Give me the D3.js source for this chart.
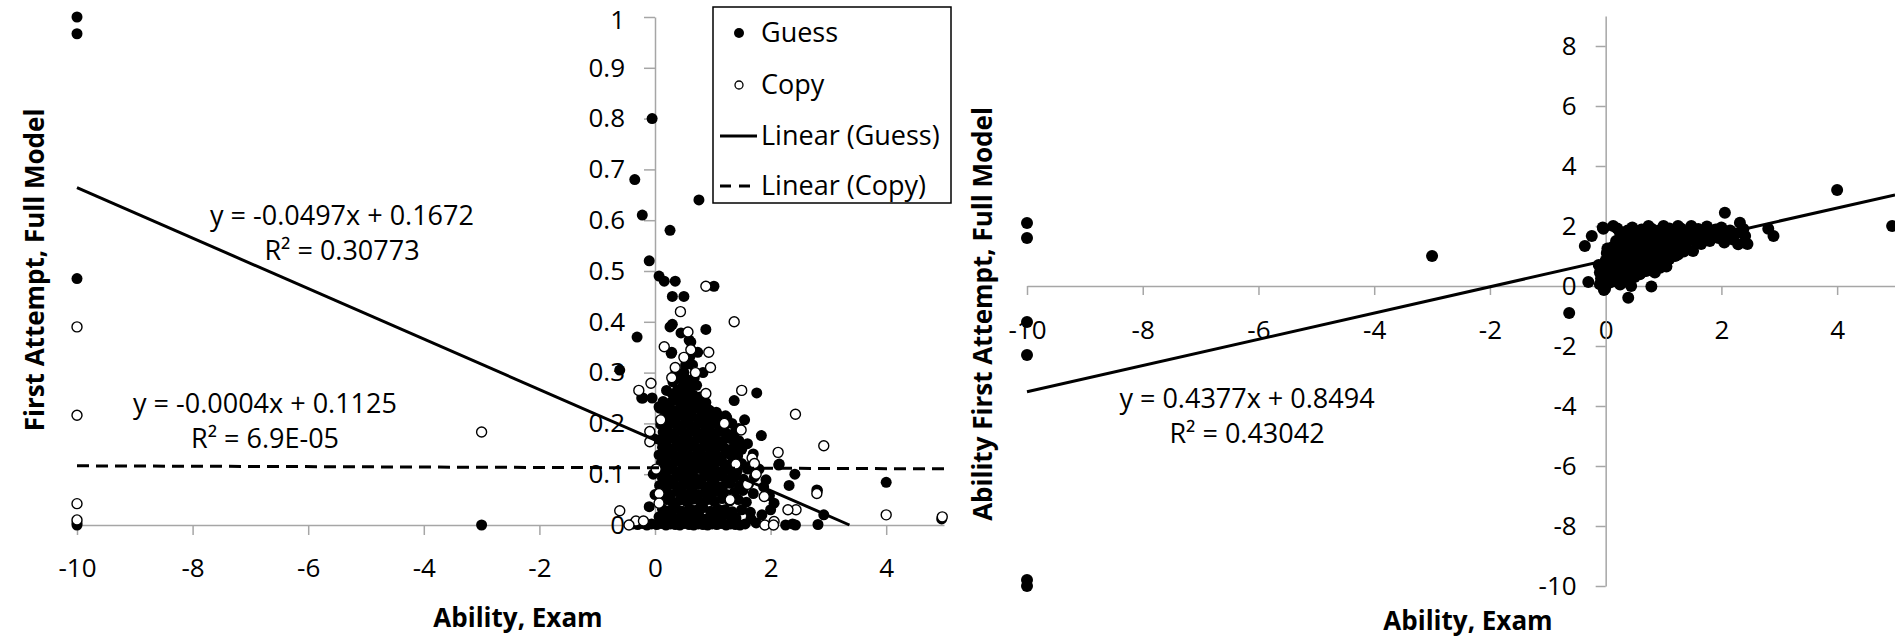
<!DOCTYPE html>
<html>
<head>
  <meta charset="utf-8">
  <script src="https://d3js.org/d3.v7.min.js"></script>
  <style>
    body { margin: 0; background: #fff; }
    text { font-family: "Open Sans", sans-serif; fill: #000; }
    .axis path, .axis line { stroke: #a6a6a6; stroke-width: 1.5; }
    .axis text { font-size: 26px; }
    .title { font-size: 26px; font-weight: bold; }
    .eq { font-size: 27px; text-anchor: middle; }
  </style>
</head>
<body>
  <script>

    // ---- data ----
    // left chart, "Guess" series (filled markers)
    var guessPoints = [
      [-10,1.0],[-10,0.967],[-10,0.485],[-10,0.0],[-10,0.004],[-3,0.0],
      [-0.05,0.80],[-0.35,0.68],[-0.22,0.61],[0.76,0.64],[0.26,0.58],[-0.10,0.52],
      [0.07,0.49],[0.16,0.48],[0.35,0.48],[0.30,0.45],[0.50,0.45],[1.02,0.47],
      [-0.31,0.37],[0.26,0.39],[0.88,0.385],[0.62,0.36],[-0.61,0.305],[0.29,0.34],
      [0.74,0.34],[0.53,0.315],[0.83,0.30],[-0.23,0.25],[-0.05,0.25],[-0.21,0.25],
      [0.08,0.23],[1.37,0.245],[1.76,0.26],[1.84,0.176],[2.15,0.12],[2.32,0.078],
      [2.42,0.10],[2.81,0.068],[2.92,0.02],[4.0,0.084],[4.96,0.012],[-0.1,0.036],
      [-0.38,0.002],[-0.3,0.001],[-0.22,0.003],[-0.14,0.0],[-0.06,0.002],[0.03,0.001],[0.11,0.003],
      [0.19,0.0],[0.27,0.002],[0.35,0.001],[0.43,0.0],[0.51,0.003],[0.59,0.001],[0.67,0.0],
      [0.75,0.002],[0.83,0.001],[0.91,0.0],[0.99,0.002],[1.07,0.001],[1.15,0.003],[1.23,0.0],
      [1.31,0.002],[1.39,0.001],[1.47,0.0],[1.56,0.002],[1.75,0.004],[2.26,0.0],[2.38,0.002],
      [2.43,0.0],[2.82,0.001],
      [0.07,0.016],[0.17,0.012],[0.29,0.018],[0.41,0.014],[0.54,0.02],[0.65,0.013],[0.77,0.017],
      [0.89,0.012],[1.01,0.019],[1.14,0.015],[1.27,0.02],[1.4,0.014],[1.66,0.012],[0.13,0.031],
      [0.24,0.028],[0.36,0.033],[0.47,0.027],[0.6,0.032],[0.71,0.029],[0.83,0.034],[0.96,0.027],
      [1.09,0.031],[1.21,0.03],[1.34,0.026],[1.5,0.03],[2.06,0.043],
      [0.09,0.047],[0.2,0.05],[0.31,0.044],[0.43,0.049],[0.55,0.046],[0.67,0.051],[0.79,0.045],
      [0.91,0.05],[1.03,0.046],[1.16,0.052],[1.29,0.047],[1.44,0.05],[1.58,0.045],[1.98,0.058],
      [0.15,0.063],[0.27,0.06],[0.39,0.066],[0.51,0.061],[0.63,0.065],[0.75,0.06],[0.87,0.064],
      [0.99,0.061],[1.12,0.066],[1.24,0.06],[1.37,0.064],[1.52,0.068],[1.7,0.062],
      [0.08,0.078],[0.19,0.075],[0.31,0.08],[0.43,0.076],[0.55,0.081],[0.67,0.077],[0.8,0.08],
      [0.92,0.075],[1.04,0.079],[1.17,0.076],[1.3,0.082],[1.46,0.077],[1.62,0.081],[2.8,0.069],
      [0.13,0.092],[0.25,0.09],[0.37,0.095],[0.49,0.091],[0.61,0.094],[0.73,0.09],[0.85,0.095],
      [0.97,0.092],[1.1,0.096],[1.23,0.09],[1.37,0.094],[1.53,0.09],[1.72,0.095],[1.92,0.089],
      [0.06,0.108],[0.18,0.106],[0.3,0.11],[0.42,0.105],[0.54,0.109],[0.66,0.106],[0.78,0.111],
      [0.9,0.107],[1.02,0.11],[1.15,0.105],[1.28,0.109],[1.42,0.106],[1.6,0.11],
      [0.11,0.123],[0.23,0.12],[0.35,0.125],[0.47,0.121],[0.59,0.124],[0.71,0.12],[0.83,0.126],
      [0.95,0.121],[1.07,0.125],[1.2,0.12],[1.34,0.124],[1.5,0.121],[1.67,0.118],[2.14,0.118],
      [0.07,0.138],[0.19,0.135],[0.31,0.14],[0.43,0.136],[0.55,0.139],[0.67,0.135],[0.79,0.14],
      [0.91,0.136],[1.03,0.139],[1.15,0.135],[1.28,0.14],[1.43,0.136],
      [0.13,0.153],[0.25,0.15],[0.37,0.155],[0.49,0.151],[0.61,0.154],[0.73,0.15],[0.85,0.155],
      [0.97,0.151],[1.09,0.154],[1.22,0.15],[1.36,0.153],[1.5,0.149],
      [0.08,0.168],[0.2,0.165],[0.32,0.17],[0.44,0.166],[0.56,0.169],[0.68,0.165],[0.8,0.17],
      [0.92,0.166],[1.04,0.169],[1.17,0.165],[1.31,0.17],[1.45,0.166],
      [0.14,0.183],[0.26,0.18],[0.38,0.185],[0.5,0.181],[0.62,0.184],[0.74,0.18],[0.86,0.185],
      [0.98,0.181],[1.1,0.184],[1.24,0.18],[1.38,0.182],
      [0.1,0.198],[0.22,0.195],[0.34,0.2],[0.46,0.196],[0.58,0.199],[0.7,0.195],[0.82,0.2],
      [0.94,0.196],[1.06,0.2],[1.2,0.196],[1.33,0.2],
      [0.16,0.213],[0.28,0.21],[0.4,0.215],[0.52,0.211],[0.64,0.214],[0.76,0.21],[0.88,0.215],
      [1.0,0.21],[1.12,0.214],[1.24,0.212],[1.55,0.207],
      [0.07,0.233],[0.2,0.228],[0.32,0.225],[0.44,0.23],[0.56,0.226],[0.68,0.229],[0.8,0.225],
      [0.94,0.226],[1.06,0.222],[0.14,0.243],[0.26,0.24],[0.38,0.245],[0.5,0.241],[0.62,0.244],
      [0.74,0.24],[0.88,0.241],[0.3,0.258],[0.42,0.255],[0.54,0.26],[0.66,0.256],[0.78,0.252],
      [0.39,0.266],[0.48,0.272],[0.6,0.27],[0.72,0.275],[0.31,0.282],[0.45,0.287],[0.57,0.285],
      [0.5,0.3],[0.65,0.315],[0.55,0.318],[0.28,0.338],[0.6,0.33],[0.59,0.364],
      [1.22,0.215],[1.06,0.2],[1.45,0.19],[1.6,0.16],[1.7,0.14],[1.8,0.11],[1.88,0.075],
      [2.0,0.03],[1.65,0.025],[1.85,0.02],[0.93,0.226],[0.2,0.265],[0.68,0.29],[0.36,0.3],
      [-0.03,0.1],[-0.02,0.17],[0.0,0.06],[0.45,0.378],[0.3,0.395]
    ];

    // left chart, "Copy" series (open markers)
    var copyPoints = [
      [-10,0.39],[-10,0.216],[-10,0.042],[-10,0.01],[-3,0.183],
      [-0.61,0.028],[-0.33,0.008],[-0.28,0.265],[-0.07,0.279],[-0.09,0.184],[-0.09,0.164],
      [0.16,0.351],[0.29,0.29],[0.44,0.42],[0.57,0.38],[0.62,0.345],[0.93,0.34],[0.96,0.31],
      [0.88,0.47],[1.37,0.40],[1.50,0.265],[2.43,0.218],[2.92,0.156],[2.13,0.143],[1.68,0.132],
      [1.72,0.121],[2.44,0.03],[2.06,0.007],[1.89,0.056],[2.8,0.062],[4.0,0.02],[4.97,0.016],
      [0.07,0.062],[0.07,0.043],[0.1,0.207],[0.88,0.259],[1.49,0.187],[0.5,0.33],[0.7,0.3],
      [0.35,0.31],[1.2,0.2],[1.4,0.12],[1.6,0.08],[1.9,0.0],[2.05,0.0],[-0.45,0.0],[-0.2,0.008],
      [2.3,0.03],[1.75,0.1],[0.02,0.11],[1.3,0.05]
    ];

    // right chart, single series (filled markers)
    var abilityPoints = [
      [-10,2.1],[-10,1.6],[-10,-1.2],[-10,-2.3],[-10,-9.8],[-10,-10],[-3,1.0],[-0.63,-0.9],
      [4,3.2],[4.95,2.0],[2.06,2.44],[0.39,-0.39],[0.79,-0.02],[0.44,0.0],[-0.01,-0.09],
      [-0.3,0.13],[-0.1,0.06],[-0.36,1.33],[-0.24,1.67],[-0.04,1.91],[0.13,2.0],[2.9,1.67],
      [2.81,1.91],[2.29,1.39],[2.41,1.67],[2.32,2.11],[2.09,1.67],[1.51,1.17],[1.2,1.0],
      [0.94,0.61],[0.59,0.39],[0.25,0.22],[-0.1,0.45],[-0.02,0.6],[-0.08,0.25],
      [0.02,0.35],[0.05,0.6],[0.0,0.85],[0.08,1.05],[0.03,1.25],[0.1,0.45],[0.06,0.75],
      [0.12,1.3],[0.02,1.1],[0.15,0.3],[0.18,0.55],[0.2,0.8],[0.16,1.05],[0.22,1.25],
      [0.18,1.5],[0.25,1.75],[0.2,1.92],[0.28,0.45],[0.3,0.7],[0.32,0.95],[0.28,1.15],
      [0.35,1.4],[0.3,1.6],[0.38,1.85],[0.4,0.35],[0.42,0.6],[0.45,0.85],[0.4,1.1],
      [0.48,1.3],[0.44,1.55],[0.5,1.75],[0.46,1.95],[0.55,0.5],[0.52,0.75],[0.58,1.0],
      [0.55,1.2],[0.6,1.45],[0.56,1.65],[0.62,1.88],[0.65,0.7],[0.68,0.95],[0.7,1.15],
      [0.66,1.35],[0.72,1.6],[0.7,1.8],[0.74,2.0],[0.78,0.85],[0.8,1.1],[0.82,1.3],
      [0.78,1.5],[0.85,1.7],[0.8,1.9],[0.9,0.8],[0.92,1.0],[0.95,1.25],[0.9,1.45],
      [0.96,1.65],[0.92,1.85],[1.0,2.0],[1.02,1.1],[1.05,1.35],[1.08,1.55],[1.03,1.75],
      [1.1,1.92],[1.15,1.25],[1.18,1.45],[1.2,1.65],[1.16,1.85],[1.25,2.0],[1.28,1.35],
      [1.3,1.55],[1.33,1.75],[1.3,1.92],[1.4,1.45],[1.42,1.65],[1.45,1.85],[1.48,2.0],
      [1.55,1.5],[1.58,1.7],[1.6,1.9],[1.68,1.6],[1.72,1.8],[1.75,1.98],[1.85,1.7],
      [1.9,1.88],[1.95,1.6],[2.0,1.95],[2.15,1.85],[2.2,1.55],[2.25,1.75],[0.35,0.15],
      [0.5,0.3],[0.62,0.45],[0.7,0.5],[0.85,0.65],[1.0,0.8],[1.1,0.9],[-0.05,1.95],
      [-0.03,-0.13],[0.12,0.15],[0.25,0.05],
      [1.35,1.15],[1.25,1.05],[1.65,1.4],[1.8,1.5],[2.05,1.45],[2.38,1.9],[2.45,1.4],
      [0.05,0.1],[0.3,0.2],[0.12,0.62],[-0.12,0.7],[0.85,0.45],[1.05,0.65]
    ];

    // linear fits [slope, intercept]
    var guessFit = [-0.0497, 0.1672];
    var copyFit = [-0.0004, 0.1125];
    var abilityFit = [0.4377, 0.8494];

    var guessEq = ["y = -0.0497x + 0.1672", "R\u00b2 = 0.30773"];
    var copyEq = ["y = -0.0004x + 0.1125", "R\u00b2 = 6.9E-05"];
    var abilityEq = ["y = 0.4377x + 0.8494", "R\u00b2 = 0.43042"];

    // tick labels
    var xTicks = [-10, -8, -6, -4, -2, 0, 2, 4];
    var leftYTicks = [0, 0.1, 0.2, 0.3, 0.4, 0.5, 0.6, 0.7, 0.8, 0.9, 1];
    var rightYTicks = [-10, -8, -6, -4, -2, 0, 2, 4, 6, 8];

    var legendLabels = ["Guess", "Copy", "Linear (Guess)", "Linear (Copy)"];

    // plain hyphen minus, like the original
    var fmt = function(d) { return String(d); };

    // ---- svg ----
    var svg = d3.select("body").append("svg")
        .attr("width", 1895)
        .attr("height", 638);

    // ---- left chart scales ----
    var xL = d3.scaleLinear().domain([-10, 5]).range([77, 944]);
    var yL = d3.scaleLinear().domain([0, 1]).range([525, 17]);

    // ---- right chart scales ----
    var xR = d3.scaleLinear().domain([-10, 5]).range([1027, 1895]);
    var yR = d3.scaleLinear().domain([-10, 9]).range([586, 16]);

    // left x axis at y = 0
    var gxL = svg.append("g")
        .attr("class", "axis")
        .attr("transform", "translate(0," + yL(0) + ")")
        .call(d3.axisBottom(xL).tickValues(xTicks).tickSize(10).tickSizeOuter(0).tickFormat(fmt));
    gxL.selectAll("text").attr("y", 43).attr("dy", "0.35em");

    // left y axis at x = 0
    var gyL = svg.append("g")
        .attr("class", "axis")
        .attr("transform", "translate(" + xL(0) + ",0)")
        .call(d3.axisLeft(yL).tickValues(leftYTicks).tickSize(11).tickSizeOuter(0).tickFormat(fmt));
    gyL.selectAll("text").attr("x", -30);
    // top label sits against the page edge; nudge it down a little
    gyL.selectAll("text").filter(function(d) { return d === 1; }).attr("dy", "0.45em");

    // right x axis
    var gxR = svg.append("g")
        .attr("class", "axis")
        .attr("transform", "translate(0," + yR(0) + ")")
        .call(d3.axisBottom(xR).tickValues(xTicks).tickSize(9).tickSizeOuter(0).tickFormat(fmt));
    gxR.selectAll("text").attr("y", 44).attr("dy", "0.35em");

    // right y axis
    var gyR = svg.append("g")
        .attr("class", "axis")
        .attr("transform", "translate(" + xR(0) + ",0)")
        .call(d3.axisLeft(yR).tickValues(rightYTicks).tickSize(10).tickSizeOuter(0).tickFormat(fmt));
    gyR.selectAll("text").attr("x", -29);

    svg.selectAll(".axis .domain").attr("stroke", "#a6a6a6");
    svg.selectAll(".axis .tick line").attr("stroke", "#a6a6a6");
    svg.selectAll(".axis text").attr("fill", "#000");

    // ---- markers ----
    svg.append("g").selectAll("circle")
        .data(guessPoints)
      .enter().append("circle")
        .attr("cx", function(d) { return xL(d[0]); })
        .attr("cy", function(d) { return yL(d[1]); })
        .attr("r", 5.5)
        .attr("fill", "#000");

    svg.append("g").selectAll("circle")
        .data(copyPoints)
      .enter().append("circle")
        .attr("cx", function(d) { return xL(d[0]); })
        .attr("cy", function(d) { return yL(d[1]); })
        .attr("r", 5)
        .attr("fill", "#fff")
        .attr("stroke", "#000")
        .attr("stroke-width", 1.4);

    svg.append("g").selectAll("circle")
        .data(abilityPoints)
      .enter().append("circle")
        .attr("cx", function(d) { return xR(d[0]); })
        .attr("cy", function(d) { return yR(d[1]); })
        .attr("r", 6)
        .attr("fill", "#000");

    // ---- trend lines ----
    var guessEnd = -guessFit[1] / guessFit[0];   // where it meets y = 0
    svg.append("line")
        .attr("x1", xL(-10)).attr("y1", yL(guessFit[0] * -10 + guessFit[1]))
        .attr("x2", xL(guessEnd)).attr("y2", yL(0))
        .attr("stroke", "#000").attr("stroke-width", 3);

    svg.append("line")
        .attr("x1", xL(-10)).attr("y1", yL(copyFit[0] * -10 + copyFit[1]))
        .attr("x2", xL(5)).attr("y2", yL(copyFit[0] * 5 + copyFit[1]))
        .attr("stroke", "#000").attr("stroke-width", 3)
        .attr("stroke-dasharray", "12,7");

    svg.append("line")
        .attr("x1", xR(-10)).attr("y1", yR(abilityFit[0] * -10 + abilityFit[1]))
        .attr("x2", xR(5)).attr("y2", yR(abilityFit[0] * 5 + abilityFit[1]))
        .attr("stroke", "#000").attr("stroke-width", 3);

    // ---- equation labels ----
    function eqLabel(lines, cx, cy) {
      svg.append("text").attr("class", "eq")
          .attr("x", cx).attr("y", cy).attr("dy", "0.35em").text(lines[0]);
      svg.append("text").attr("class", "eq")
          .attr("x", cx).attr("y", cy + 35).attr("dy", "0.35em").text(lines[1]);
    }
    eqLabel(guessEq, 342, 216);
    eqLabel(copyEq, 265, 404);
    eqLabel(abilityEq, 1247, 399);

    // ---- axis titles ----
    svg.append("text").attr("class", "title")
        .attr("text-anchor", "middle")
        .attr("x", 518).attr("y", 618).attr("dy", "0.35em")
        .text("Ability, Exam");

    svg.append("text").attr("class", "title")
        .attr("text-anchor", "middle")
        .attr("transform", "translate(35,270) rotate(-90)")
        .attr("dy", "0.35em")
        .text("First Attempt, Full Model");

    svg.append("text").attr("class", "title")
        .attr("text-anchor", "middle")
        .attr("x", 1468).attr("y", 621).attr("dy", "0.35em")
        .text("Ability, Exam");

    svg.append("text").attr("class", "title")
        .attr("text-anchor", "middle")
        .attr("transform", "translate(983,314) rotate(-90)")
        .attr("dy", "0.35em")
        .text("Ability First Attempt, Full Model");

    // ---- legend ----
    var legend = svg.append("g");
    legend.append("rect")
        .attr("x", 713).attr("y", 7)
        .attr("width", 238).attr("height", 196)
        .attr("fill", "#fff").attr("stroke", "#000").attr("stroke-width", 1.5);

    var rowY = [33, 85, 136, 186];
    legend.append("circle").attr("cx", 739).attr("cy", rowY[0]).attr("r", 5).attr("fill", "#000");
    legend.append("circle").attr("cx", 739).attr("cy", rowY[1]).attr("r", 4)
        .attr("fill", "#fff").attr("stroke", "#000").attr("stroke-width", 1.3);
    legend.append("line").attr("x1", 720).attr("x2", 757)
        .attr("y1", rowY[2]).attr("y2", rowY[2]).attr("stroke", "#000").attr("stroke-width", 3);
    legend.append("line").attr("x1", 720).attr("x2", 757)
        .attr("y1", rowY[3]).attr("y2", rowY[3]).attr("stroke", "#000").attr("stroke-width", 3)
        .attr("stroke-dasharray", "11,8");

    legend.selectAll(".lt")
        .data(legendLabels)
      .enter().append("text")
        .attr("x", 761)
        .attr("y", function(d, i) { return rowY[i]; })
        .attr("dy", "0.35em")
        .style("font-size", "27px")
        .text(function(d) { return d; });

  </script>
</body>
</html>
